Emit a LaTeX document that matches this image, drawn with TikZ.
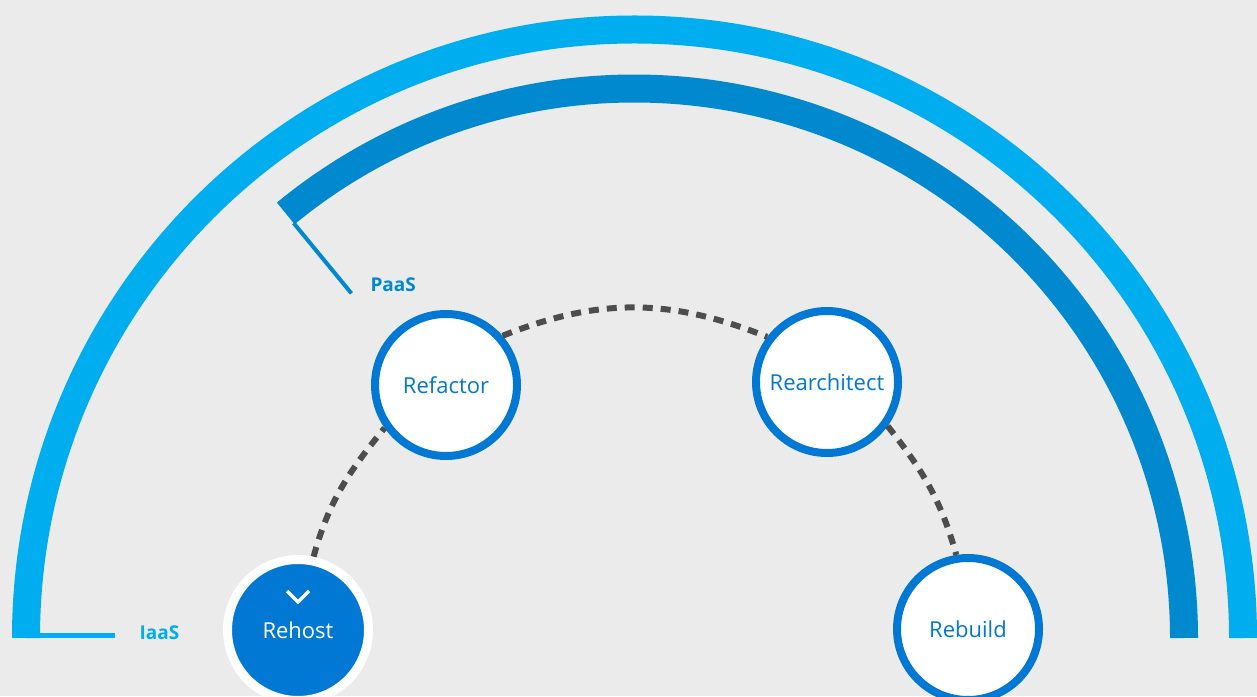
\documentclass[tikz,border=0pt]{standalone}
\usepackage{fontspec}
\setmainfont{Open Sans}
\usepackage{tikz}

\definecolor{bggray}{HTML}{EBEBEB}
\definecolor{iaasblue}{HTML}{00ADEF}
\definecolor{paasblue}{HTML}{0089CF}
\definecolor{ringblue}{HTML}{0078D4}
\definecolor{dotgray}{HTML}{4D4D4D}

\begin{document}
\begin{tikzpicture}[x=1pt,y=1pt,
	stage/.style={circle,draw=ringblue,line width=8pt,fill=white,minimum size=142pt,inner sep=0pt,text=ringblue,font=\fontsize{22}{26}\selectfont},
	current/.style={stage,draw=white,line width=9pt,fill=ringblue,text=white,minimum size=141pt},
	dotline/.style={draw=dotgray,line width=6pt,dash pattern=on 10pt off 8pt},
	tierlabel/.style={anchor=base west,font=\fontsize{19}{22}\selectfont\bfseries}]
	\useasboundingbox[fill=bggray] (0,0) rectangle (1257,696);
	\coordinate (c) at (634.5,58);
	
	% IaaS
	\draw[iaasblue,line width=28pt] (c) ++(180:608.5) arc[start angle=180,end angle=0,radius=608.5];
	\fill[iaasblue] (40,58) rectangle (115,63);
	\node[tierlabel,text=iaasblue] (iaas) at (136,57) {IaaS};
	
	% PaaS
	\draw[paasblue,line width=28pt] (c) ++(129.4:549.5) arc[start angle=129.4,end angle=0,radius=549.5];
	\draw[paasblue,line width=4pt] (c) ++(129.4:537) coordinate (paastop) -- ++(309.4:91) coordinate (paastick);
	\node[tierlabel,text=paasblue] (paas) at (367,404) {PaaS};
	
	% stages
	\node[current] (rehost) at (298,66) {Rehost};
	\node[stage] (refactor) at (446,311) {Refactor};
	\node[stage] (rearchitect) at (827,314) {Rearchitect};
	\node[stage] (rebuild) at (968,67) {Rebuild};
	\draw[white,line width=3.5pt] ([shift={(-11,39)}]rehost.center) -- ([shift={(0,28)}]rehost.center) -- ([shift={(11,39)}]rehost.center);
	
	\draw[dotline] (rehost.78) to[out=74.6,in=230.7] (refactor.215);
	\draw[dotline] (refactor.41) to[out=21.8,in=158.1] (rearchitect.143);
	\draw[dotline] (rearchitect.324) to[out=-51.7,in=105.6] (rebuild.99);
\end{tikzpicture}
\end{document}
